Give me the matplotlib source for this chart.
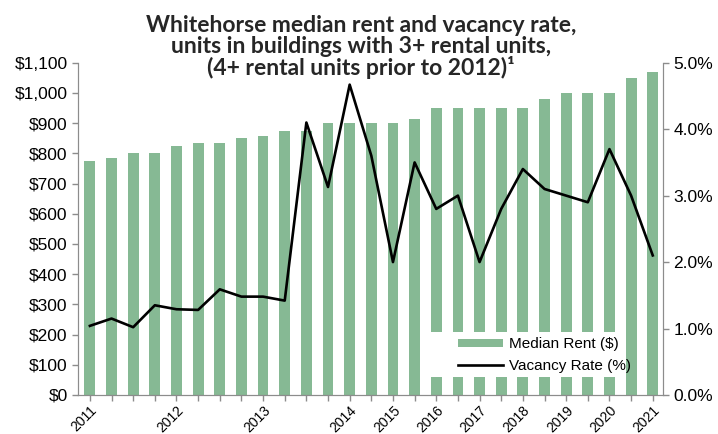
import matplotlib
matplotlib.use("Agg")
import matplotlib.pyplot as plt
import matplotlib.patches as patches
from matplotlib.ticker import FuncFormatter
import numpy as np

# datos (trimestral 2011-2013, semestral desde 2014)
median_rent = [775, 785, 800, 800, 825, 835, 835, 850, 857, 875, 875, 900,
               900, 900, 900, 915, 950, 950, 950, 950, 950, 980, 1000, 1000,
               1000, 1050, 1070]
vacancy_rate = [1.04, 1.15, 1.02, 1.35, 1.29, 1.28, 1.59, 1.48, 1.48, 1.42,
                4.1, 3.13, 4.67, 3.6, 2.0, 3.5, 2.8, 3.0, 2.0, 2.8, 3.4,
                3.1, 3.0, 2.9, 3.7, 3.0, 2.1]
year_labels = {0: "2011", 4: "2012", 8: "2013", 12: "2014", 14: "2015",
               16: "2016", 18: "2017", 20: "2018", 22: "2019", 24: "2020",
               26: "2021"}

green = "#86b994"
gray = "#8c8c8c"
tick_font = "Liberation Sans"

x = np.arange(len(median_rent))

fig = plt.figure(figsize=(7.18, 4.34), dpi=100)
ax = fig.add_axes([0.1086, 0.0899, 0.8147, 0.7656])
ax2 = ax.twinx()

ax.bar(x, median_rent, width=0.5, color=green, label="Median Rent ($)", zorder=2)
ax2.plot(x, vacancy_rate, color="black", lw=1.9, label="Vacancy Rate (%)", zorder=3)

ax.set_xlim(-0.55, 26.47)
ax.set_ylim(0, 1100)
ax2.set_ylim(0, 5)
ax.set_yticks(range(0, 1101, 100))
ax2.set_yticks(np.arange(0, 5.01, 1))
ax.yaxis.set_major_formatter(FuncFormatter(lambda v, p: f"${v:,.0f}"))
ax2.yaxis.set_major_formatter(FuncFormatter(lambda v, p: f"{v:.1f}%"))

ax.set_xticks(x)
ax.set_xticklabels([year_labels.get(i, "") for i in x], rotation=45,
                   ha="right", rotation_mode="anchor", fontsize=10,
                   family=tick_font)

for a in (ax, ax2):
    for s in a.spines.values():
        s.set_color(gray)
    a.spines["top"].set_visible(False)
    a.tick_params(colors=gray, labelcolor="black", length=4, width=1)
    for lab in a.get_yticklabels():
        lab.set_fontsize(12.5)
        lab.set_family(tick_font)
ax.tick_params(axis="x", pad=2)

# caja blanca detras de la leyenda (tapa las barras)
ax2.add_patch(patches.Rectangle((0.593, 0.054), 0.337, 0.136, transform=ax2.transAxes,
                                facecolor="white", edgecolor="none", zorder=1))

h1, l1 = ax.get_legend_handles_labels()
h2, l2 = ax2.get_legend_handles_labels()
leg = ax2.legend(h1 + h2, l1 + l2, loc="center left", bbox_to_anchor=(0.636, 0.12),
                 frameon=False, borderpad=0, handlelength=3.0, handleheight=0.5,
                 handletextpad=0.35, labelspacing=0.5,
                 prop={"family": tick_font, "size": 11})
leg.set_zorder(5)

fig.text(0.503, 0.965,
         "Whitehorse median rent and vacancy rate,\n"
         "units in buildings with 3+ rental units,\n"
         "(4+ rental units prior to 2012)\u00b9",
         ha="center", va="top", fontsize=16.5, fontweight="bold",
         family=["Lato", "DejaVu Sans"], color="#262626", linespacing=0.98,
         zorder=10)

fig.savefig("out.png", dpi=100)
